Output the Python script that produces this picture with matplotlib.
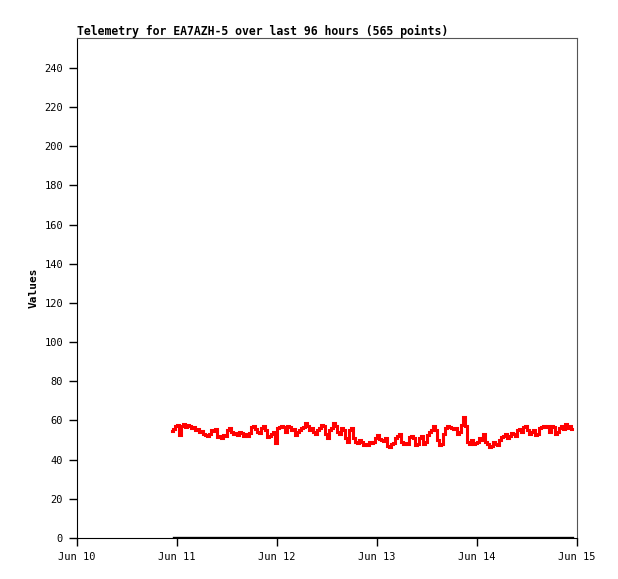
import numpy as np
import pandas as pd
import matplotlib
matplotlib.use('Agg')
import matplotlib.pyplot as plt
import matplotlib.dates as mdates

title = 'Telemetry for EA7AZH-5 over last 96 hours (565 points)'
ylabel = 'Values'

# readings, roughly one every 28.8 minutes
start = '2024-06-10 22:48'
step = '1728s'
values = [
    # Jun 10 late -> Jun 11
    54.5, 55.5, 57, 57.5, 52.5, 57, 58, 56.5, 57.5, 57,
    56, 56.5, 55, 55.5, 54, 54.5, 53, 52.5, 52, 53,
    55, 54.5, 55.5, 51.5, 52, 51, 52.5, 52, 55, 56,
    54, 53, 53.5, 52.5, 54, 53.5, 52, 53, 52, 53.5,
    56.5, 57, 55.5, 54, 53.5, 56, 57, 55, 51.5, 52,
    # Jun 12
    53, 54, 48.5, 56, 56.5, 57, 56.5, 54, 57, 56.5,
    55, 55.5, 52.5, 54, 55, 56, 56.5, 58.5, 57, 55,
    56, 54, 53, 55, 56, 57.5, 57, 53, 51, 55,
    56, 58.5, 57, 54, 53, 56, 55, 51, 49, 55,
    56, 51, 49, 48.5, 50, 49, 47.5, 48, 47.5, 49,
    # Jun 13
    48.5, 49, 51, 52.5, 50.5, 50, 49.5, 51, 47, 46.5,
    48, 48.5, 51, 52, 53, 49, 48, 48.5, 48, 51.5,
    52, 51, 47.5, 48, 51, 52, 48, 49, 52.5, 54,
    55, 57, 55, 50, 47.5, 48, 53, 56, 57, 56.5,
    56, 55.5, 56, 53, 54, 57.5, 62, 57, 49, 48,
    # Jun 14
    50, 48, 48.5, 49, 51, 50, 53, 49, 48, 46.5,
    47, 49, 48, 47.5, 50, 51.5, 52, 53, 51, 52,
    53.5, 53, 52, 55, 55.5, 54, 56.5, 57, 55, 53,
    54, 55, 52.5, 53, 56, 56.5, 57, 56.5, 57, 54,
    57, 56.5, 53, 54, 56, 57, 55.5, 58, 56, 57,
    55.5,
]
zero_series = [0] * len(values)

times = pd.date_range(start, periods=len(values), freq=step)

plt.rcParams['font.family'] = ['DejaVu Sans Mono']

fig = plt.figure(figsize=(6.18, 5.79), dpi=100)
ax = fig.add_axes([77/618, 41/579, 500/618, 500/579])

ax.plot(times, values, color='#ff0000', lw=2.2, drawstyle='steps-mid',
        solid_joinstyle='miter')
ax.plot(times[1:], zero_series[1:], color='black', lw=2.4)

ax.set_xlim(pd.Timestamp('2024-06-10'), pd.Timestamp('2024-06-15'))
ax.set_ylim(0, 255.3)
ax.set_yticks(np.arange(0, 241, 20))
ax.xaxis.set_major_locator(mdates.DayLocator())
ax.xaxis.set_major_formatter(mdates.DateFormatter('%b %d'))

ax.tick_params(direction='out', length=6, width=1, labelsize=7.5, pad=4, colors='black')
for side in ['top', 'right']:
    ax.spines[side].set_color('#555555')
for side in ['left', 'bottom']:
    ax.spines[side].set_color('black')

ax.set_title(title, loc='left', fontsize=8.3, fontweight='bold', pad=2)
ax.set_ylabel(ylabel, fontsize=8, fontweight='bold', labelpad=4)

fig.savefig('out.png', dpi=100)
